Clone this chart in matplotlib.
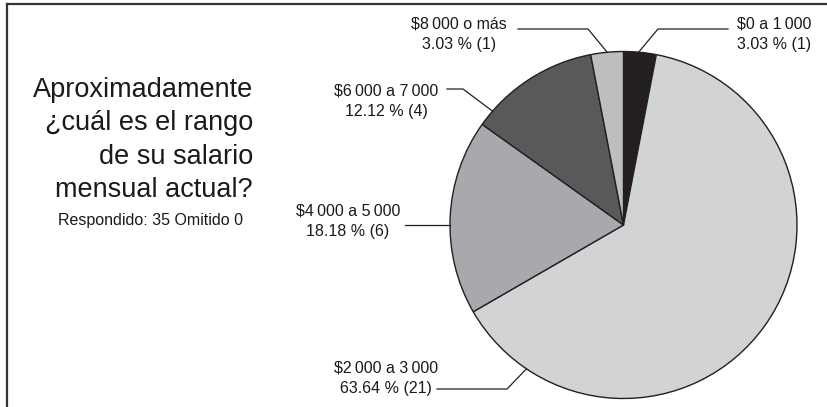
import matplotlib
matplotlib.use("Agg")
import matplotlib.pyplot as plt
from matplotlib.lines import Line2D
import numpy as np

plt.rcParams["font.family"] = ["Liberation Sans", "DejaVu Sans"]

categories = ["$0 a 1\u2009000", "$2\u2009000 a 3\u2009000", "$4\u2009000 a 5\u2009000",
              "$6\u2009000 a 7\u2009000", "$8\u2009000 o más"]
counts = [1, 21, 6, 4, 1]
percents = [3.03, 63.64, 18.18, 12.12, 3.03]
colors = ["#231f20", "#d1d3d4", "#a7a9ac", "#58595b", "#bcbec0"]

W, H = 827, 407
fig = plt.figure(figsize=(W / 100, H / 100), dpi=100)
ax = fig.add_axes([0, 0, 1, 1])

# pie in pixel coordinates (y grows downward)
cx, cy, r = 623.5, 225.0, 173.5
ax.pie(counts, colors=colors, startangle=270, counterclock=True,
       center=(cx, cy), radius=r,
       wedgeprops=dict(edgecolor="#231f20", linewidth=1.0))
ax.set_xlim(0, W)
ax.set_ylim(H, 0)
ax.set_aspect("auto")
ax.axis("off")

# leader lines: (screen angle on rim, elbow point, end point, text centre)
leaders = [
    (85.0, (658, 29), (728, 29), (774, 34)),
    (236.0, (507, 389), (437, 389), (386, 378)),
    (180.0, None, (405, 225), (348, 221)),
    (139.0, (463, 89), (447, 89), (386, 101)),
    (95.4, (588, 29), (518, 29), (459, 34)),
]
for i, (ang, elbow, end, tpos) in enumerate(leaders):
    a = np.deg2rad(ang)
    rim = (cx + r * np.cos(a), cy - r * np.sin(a))
    pts = [rim] + ([elbow] if elbow else []) + [end]
    xs, ys = zip(*pts)
    ax.add_line(Line2D(xs, ys, color="#231f20", lw=0.9))
    label = f"{categories[i]}\n{percents[i]:.2f} % ({counts[i]})"
    ax.text(tpos[0], tpos[1], label, ha="center", va="center",
            multialignment="center", fontsize=11.5, color="#1a1a1a",
            linespacing=1.45)

# question text
ax.text(253, 140, "Aproximadamente\n¿cuál es el rango\nde su salario\nmensual actual?",
        ha="right", va="center", multialignment="right", fontsize=19.5,
        color="#1a1a1a", linespacing=1.36)
ax.text(150, 221, "Respondido: 35 Omitido 0", ha="center", va="center",
        fontsize=11.5, color="#1a1a1a")

# border on the left and top
ax.add_line(Line2D([7, 7], [4, H], color="#333333", lw=1.6))
ax.add_line(Line2D([7, W], [4, 4], color="#333333", lw=1.6))

fig.savefig("out.png", dpi=100)
